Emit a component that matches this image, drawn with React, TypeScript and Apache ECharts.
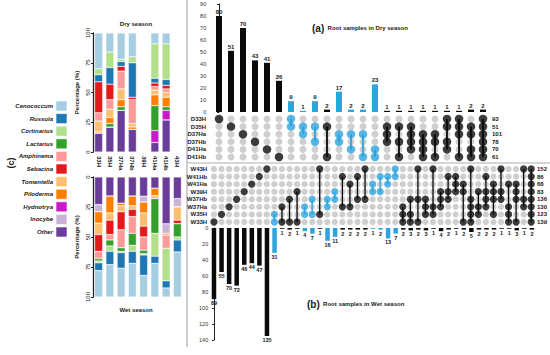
import React, { useEffect, useRef } from 'react';
import * as echarts from 'echarts';

const FONT = '"Liberation Sans", Arial, Helvetica, sans-serif';

// ---------- (c) stacked composition ----------
const TAXA = ['Cenococcum', 'Russula', 'Cortinarius', 'Lactarius', 'Amphinema', 'Sebacina', 'Tomentella', 'Piloderma', 'Hydnotrya', 'Inocybe', 'Other'];
const TAXA_COLORS = ['#a6cee3', '#1f78b4', '#b2df8a', '#33a02c', '#fb9a99', '#e31a1c', '#fdbf6f', '#ff7f00', '#c81ac8', '#cab2d6', '#6a3d9a'];
const SITES = ['33H', '35H', '37Ha', '37Hb', '39H', '41Ha', '41Hb', '43H'];

// Dry season (%), per site; null = no sample
const DRY_CENOCOCCUM = [30, 16, 22, 20, null, 9, 9, null];
const DRY_RUSSULA = [6, 14, 4, 29, null, 4, 5, null];
const DRY_CORTINARIUS = [5, 13, 2, 5, null, 29, 30, null];
const DRY_LACTARIUS = [0, 3, 3, 0, null, 21, 3, null];
const DRY_AMPHINEMA = [7, 8, 15, 20, null, 3, 3, null];
const DRY_SEBACINA = [26, 13, 4, 2, null, 3, 3, null];
const DRY_TOMENTELLA = [9, 7, 9, 3, null, 4, 4, null];
const DRY_PILODERMA = [1, 5, 6, 2, null, 9, 8, null];
const DRY_HYDNOTRYA = [0, 0, 0, 0, null, 10, 8, null];
const DRY_INOCYBE = [0, 0, 0, 0, null, 0, 0, null];
const DRY_OTHER = [16, 21, 35, 19, null, 8, 27, null];

// Wet season (%), per site
const WET_CENOCOCCUM = [22, 27, 24, 28, 18, 28, 7.5, 37.5];
const WET_RUSSULA = [6.5, 11, 13, 10, 17, 6, 6, 10];
const WET_CORTINARIUS = [1.5, 4.5, 1, 5, 1, 19, 27, 2.5];
const WET_LACTARIUS = [2, 5, 3, 10, 3, 29, 0, 11];
const WET_AMPHINEMA = [6, 4.5, 15, 14, 11, 0, 11, 0];
const WET_SEBACINA = [14, 12, 15, 6, 9, 0, 0, 3];
const WET_TOMENTELLA = [9.5, 6, 5, 3, 11, 2.5, 0, 11];
const WET_PILODERMA = [9.5, 14, 2, 8, 9, 6, 1.5, 0];
const WET_HYDNOTRYA = [0, 0, 0, 0, 0, 0, 0, 0];
const WET_INOCYBE = [6, 0, 0, 0, 5, 0, 8, 7];
const WET_OTHER = [23, 16, 22, 16, 16, 9.5, 39, 18];

const DRY_PCT = [DRY_CENOCOCCUM, DRY_RUSSULA, DRY_CORTINARIUS, DRY_LACTARIUS, DRY_AMPHINEMA, DRY_SEBACINA, DRY_TOMENTELLA, DRY_PILODERMA, DRY_HYDNOTRYA, DRY_INOCYBE, DRY_OTHER];
const WET_PCT = [WET_CENOCOCCUM, WET_RUSSULA, WET_CORTINARIUS, WET_LACTARIUS, WET_AMPHINEMA, WET_SEBACINA, WET_TOMENTELLA, WET_PILODERMA, WET_HYDNOTRYA, WET_INOCYBE, WET_OTHER];

const DRY_STACK_ORDER = ['Other', 'Inocybe', 'Hydnotrya', 'Lactarius', 'Piloderma', 'Tomentella', 'Amphinema', 'Sebacina', 'Russula', 'Cortinarius', 'Cenococcum'];
const WET_STACK_ORDER = ['Other', 'Inocybe', 'Hydnotrya', 'Piloderma', 'Tomentella', 'Sebacina', 'Amphinema', 'Lactarius', 'Cortinarius', 'Russula', 'Cenococcum'];

// ---------- (a) dry-season intersections ----------
const DRY_SETS = ['D33H', 'D35H', 'D37Ha', 'D37Hb', 'D41Ha', 'D41Hb'];
const DRY_SET_SIZES = [93, 51, 101, 78, 70, 61];
const DRY_COUNTS = [80, 51, 70, 43, 41, 26, 9, 1, 9, 2, 17, 2, 2, 23, 1, 1, 1, 1, 1, 1, 1, 2, 2];
const DRY_BLUE = [0, 0, 0, 0, 0, 0, 1, 1, 1, 0, 1, 1, 1, 1, 0, 0, 0, 0, 0, 0, 0, 0, 0];
const DRY_COMBOS = [[0], [1], [2], [3], [4], [5], [0, 1], [1, 2], [1, 3], [1, 5], [2, 3], [2, 4], [2, 5], [4, 5], [1, 2, 3], [1, 3, 5], [1, 2, 3, 4], [2, 3, 4, 5], [2, 3, 5], [0, 1, 3, 4], [0, 1, 2, 5], [1, 2, 4, 5], [0, 1, 2, 3, 4, 5]];

// ---------- (b) wet-season intersections ----------
const WET_SETS = ['W43H', 'W41Hb', 'W41Ha', 'W39H', 'W37Hb', 'W37Ha', 'W35H', 'W33H'];
const WET_SET_SIZES = [152, 86, 68, 83, 136, 130, 123, 139];
const WET_COUNTS = [89, 55, 70, 72, 46, 44, 47, 135, 31, 1, 2, 1, 4, 7, 1, 16, 11, 2, 2, 2, 2, 1, 2, 13, 7, 2, 3, 2, 3, 1, 4, 2, 1, 2, 5, 2, 2, 2, 1, 1, 3, 1, 2];
const WET_BLUE = [0, 0, 0, 0, 0, 0, 0, 0, 1, 0, 0, 0, 1, 1, 0, 1, 1, 0, 0, 0, 0, 1, 1, 1, 1, 0, 0, 0, 0, 0, 0, 0, 0, 0, 0, 0, 0, 0, 0, 0, 0, 0, 0];
const WET_COMBOS = [[7], [6], [5], [4], [3], [2], [1], [0], [6, 7], [5, 7], [4, 7], [3, 7], [5, 6], [4, 6], [0, 6], [4, 5], [3, 4], [1, 5], [2, 5], [1, 4], [0, 4], [2, 3], [1, 3], [1, 2], [0, 1], [5, 6, 7], [4, 6, 7], [0, 4, 7], [4, 5, 6], [0, 5, 6], [3, 4, 5], [1, 3, 4], [1, 2, 3], [2, 3, 7], [0, 4, 5, 6, 7], [3, 5, 6], [1, 3, 4, 5], [2, 3, 4, 6], [0, 3, 4], [2, 5, 6, 7], [2, 3, 4, 7], [0, 4, 5], [0, 1, 2, 3, 4, 5, 6, 7]];

const BLACK = '#0a0a0a';
const BLUE = '#2ea3dc';
const GRAY = '#c3c3c3';
const TEXT = '#1a1a1a';

function matrixSeries(combos: number[][], blue: number[], nRows: number, xi: number, yi: number, gSize: number, sSize: number, lw: number) {
  const gray: number[][] = [];
  const set: any[] = [];
  const lines: number[][] = [];
  combos.forEach((c, col) => {
    for (let r = 0; r < nRows; r++) {
      if (c.includes(r)) set.push({ value: [col, r], itemStyle: { color: blue[col] ? BLUE : BLACK } });
      else gray.push([col, r]);
    }
    if (c.length > 1) lines.push([col, Math.min(...c), Math.max(...c), blue[col]]);
  });
  return [
    { type: 'scatter', xAxisIndex: xi, yAxisIndex: yi, data: gray, symbolSize: gSize, itemStyle: { color: GRAY }, z: 2, silent: true },
    {
      type: 'custom', xAxisIndex: xi, yAxisIndex: yi, data: lines, encode: { x: 0, y: [1, 2] }, z: 3, silent: true,
      renderItem: (_p: any, api: any) => {
        const x = api.value(0);
        const p1 = api.coord([x, api.value(1)]);
        const p2 = api.coord([x, api.value(2)]);
        return { type: 'line', shape: { x1: p1[0], y1: p1[1], x2: p2[0], y2: p2[1] }, style: { stroke: api.value(3) ? BLUE : BLACK, lineWidth: lw } };
      },
    },
    { type: 'scatter', xAxisIndex: xi, yAxisIndex: yi, data: set, symbolSize: sSize, z: 4, silent: true },
  ];
}

function buildOption(): any {
  const labelStyle = { fontFamily: FONT, fontWeight: 'bold', color: TEXT };
  const pctAxis = (gridIndex: number, inverse: boolean) => ({
    type: 'value', gridIndex, min: 0, max: 100, interval: 25, inverse,
    name: 'Percentage (%)', nameLocation: 'middle', nameGap: 13, nameRotate: 90,
    nameTextStyle: { ...labelStyle, fontSize: 6 },
    axisLine: { show: true, lineStyle: { color: '#222', width: 1.3 } },
    axisTick: { show: true, length: 2, lineStyle: { color: '#222' } },
    axisLabel: { ...labelStyle, fontWeight: 'normal', fontSize: 6, rotate: 90, margin: 2 },
    splitLine: { show: false },
  });
  const catAxis = (gridIndex: number, data: string[], position: string, margin: number) => ({
    type: 'category', gridIndex, data, inverse: true, position,
    axisLine: { show: false }, axisTick: { show: false },
    axisLabel: { ...labelStyle, fontSize: 6, margin, interval: 0 },
  });

  const stackSeries = (order: string[], pct: (number | null)[][], stack: string, axis: number) =>
    order.map((name) => {
      const i = TAXA.indexOf(name);
      return {
        type: 'bar', name, stack, xAxisIndex: axis, yAxisIndex: axis, barWidth: 8,
        data: pct[i].map((v) => (v == null ? '-' : v)),
        itemStyle: { color: TAXA_COLORS[i], borderColor: '#ffffff', borderWidth: 0.4 },
        silent: true,
      };
    });

  const legend: any[] = [];
  TAXA.forEach((name, i) => {
    const cy = 106 + i * 12.6;
    legend.push({ type: 'rect', shape: { x: 56, y: cy - 5, width: 11, height: 10 }, style: { fill: TAXA_COLORS[i], stroke: '#ffffff', lineWidth: 0.6 } });
    legend.push({ type: 'text', x: 53, y: cy, style: { text: name, align: 'right', verticalAlign: 'middle', fill: TEXT, fontSize: 6, fontWeight: 'bold', fontStyle: 'italic', fontFamily: FONT } });
  });

  return {
    animation: false,
    textStyle: { fontFamily: FONT },
    grid: [
      { left: 93, top: 33, width: 90, height: 119 },
      { left: 93, top: 177, width: 90, height: 120 },
      { left: 208.2, top: 4, width: 280.8, height: 108 },
      { left: 208.2, top: 115.2, width: 280.8, height: 45.6 },
      { left: 210.2, top: 165.2, width: 325.5, height: 60.6 },
      { left: 210.2, top: 228, width: 325.5, height: 112 },
    ],
    xAxis: [
      { type: 'category', gridIndex: 0, data: SITES, axisLine: { show: false }, axisTick: { show: false }, axisLabel: { ...labelStyle, fontSize: 6, rotate: -90, margin: 4, interval: 0 } },
      { type: 'category', gridIndex: 1, data: SITES, show: false },
      { type: 'value', gridIndex: 2, min: -0.9, max: 22.5, show: false },
      { type: 'value', gridIndex: 3, min: -0.9, max: 22.5, show: false },
      { type: 'value', gridIndex: 4, min: -0.5, max: 42.5, show: false },
      { type: 'value', gridIndex: 5, min: -0.5, max: 42.5, show: false },
    ],
    yAxis: [
      pctAxis(0, false),
      pctAxis(1, true),
      {
        type: 'value', gridIndex: 2, min: 0, max: 90, interval: 10,
        axisLine: { show: true, lineStyle: { color: '#222', width: 1 } },
        axisTick: { show: true, length: 2, lineStyle: { color: '#222' } },
        axisLabel: { fontFamily: FONT, fontSize: 5.5, color: '#333', margin: 2 },
        splitLine: { show: false },
      },
      catAxis(3, DRY_SETS, 'left', 2),
      catAxis(3, DRY_SET_SIZES.map(String), 'right', 3),
      catAxis(4, WET_SETS, 'left', 3),
      catAxis(4, WET_SET_SIZES.map(String), 'right', 2),
      {
        type: 'value', gridIndex: 5, min: 0, max: 140, interval: 20, inverse: true,
        axisLine: { show: true, lineStyle: { color: '#222', width: 1 } },
        axisTick: { show: true, length: 2, lineStyle: { color: '#222' } },
        axisLabel: { fontFamily: FONT, fontSize: 5.5, color: '#333', margin: 2 },
        splitLine: { show: false },
      },
    ],
    series: [
      ...stackSeries(DRY_STACK_ORDER, DRY_PCT, 'dry', 0),
      ...stackSeries(WET_STACK_ORDER, WET_PCT, 'wet', 1),
      {
        type: 'bar', xAxisIndex: 2, yAxisIndex: 2, barWidth: 6, silent: true,
        data: DRY_COUNTS.map((v, i) => ({ value: [i, v], itemStyle: { color: DRY_BLUE[i] ? BLUE : BLACK } })),
        label: { show: true, position: 'top', distance: 1, fontSize: 6, fontWeight: 'bold', color: TEXT, fontFamily: FONT, formatter: (p: any) => String(p.value[1]) },
      },
      {
        type: 'bar', xAxisIndex: 5, yAxisIndex: 7, barWidth: 4.5, silent: true,
        data: WET_COUNTS.map((v, i) => ({ value: [i, v], itemStyle: { color: WET_BLUE[i] ? BLUE : BLACK } })),
        label: { show: true, position: 'bottom', distance: 1, fontSize: 5.5, fontWeight: 'bold', color: TEXT, fontFamily: FONT, formatter: (p: any) => String(p.value[1]) },
      },
      ...matrixSeries(DRY_COMBOS, DRY_BLUE, DRY_SETS.length, 3, 3, 7, 8.5, 1.8),
      ...matrixSeries(WET_COMBOS, WET_BLUE, WET_SETS.length, 4, 5, 6.3, 7.3, 1.3),
    ],
    graphic: {
      elements: [
        { type: 'line', shape: { x1: 187, y1: 0, x2: 187, y2: 347 }, style: { stroke: '#bdbdbd', lineWidth: 1.5 } },
        { type: 'line', shape: { x1: 188, y1: 163, x2: 550, y2: 163 }, style: { stroke: '#c8c8c8', lineWidth: 1.5 } },
        { type: 'text', x: 11, y: 163, rotation: Math.PI / 2, style: { text: '(c)', align: 'center', verticalAlign: 'middle', fill: TEXT, fontSize: 9, fontWeight: 'bold', fontFamily: FONT } },
        { type: 'text', x: 136, y: 24, style: { text: 'Dry season', align: 'center', verticalAlign: 'middle', fill: TEXT, fontSize: 6, fontWeight: 'bold', fontFamily: FONT } },
        { type: 'text', x: 136, y: 310, style: { text: 'Wet season', align: 'center', verticalAlign: 'middle', fill: TEXT, fontSize: 6, fontWeight: 'bold', fontFamily: FONT } },
        {
          type: 'text', x: 312, y: 28, style: {
            text: '{a|(a)} {b|Root samples in Dry season}', verticalAlign: 'middle', fill: TEXT, fontFamily: FONT,
            rich: { a: { fontSize: 10, fontWeight: 'bold', fontFamily: FONT }, b: { fontSize: 6, fontWeight: 'bold', fontFamily: FONT } },
          },
        },
        {
          type: 'text', x: 307, y: 304, style: {
            text: '{a|(b)} {b|Root samples in Wet season}', verticalAlign: 'middle', fill: TEXT, fontFamily: FONT,
            rich: { a: { fontSize: 10, fontWeight: 'bold', fontFamily: FONT }, b: { fontSize: 6, fontWeight: 'bold', fontFamily: FONT } },
          },
        },
        ...legend,
      ],
    },
  };
}

export default function App() {
  const ref = useRef<HTMLDivElement>(null);
  useEffect(() => {
    document.body.style.margin = '0';
    const chart = echarts.init(ref.current as HTMLDivElement, undefined, { renderer: 'svg' });
    chart.setOption(buildOption());
    return () => chart.dispose();
  }, []);
  return <div ref={ref} style={{ width: 550, height: 355, background: '#ffffff' }} />;
}
